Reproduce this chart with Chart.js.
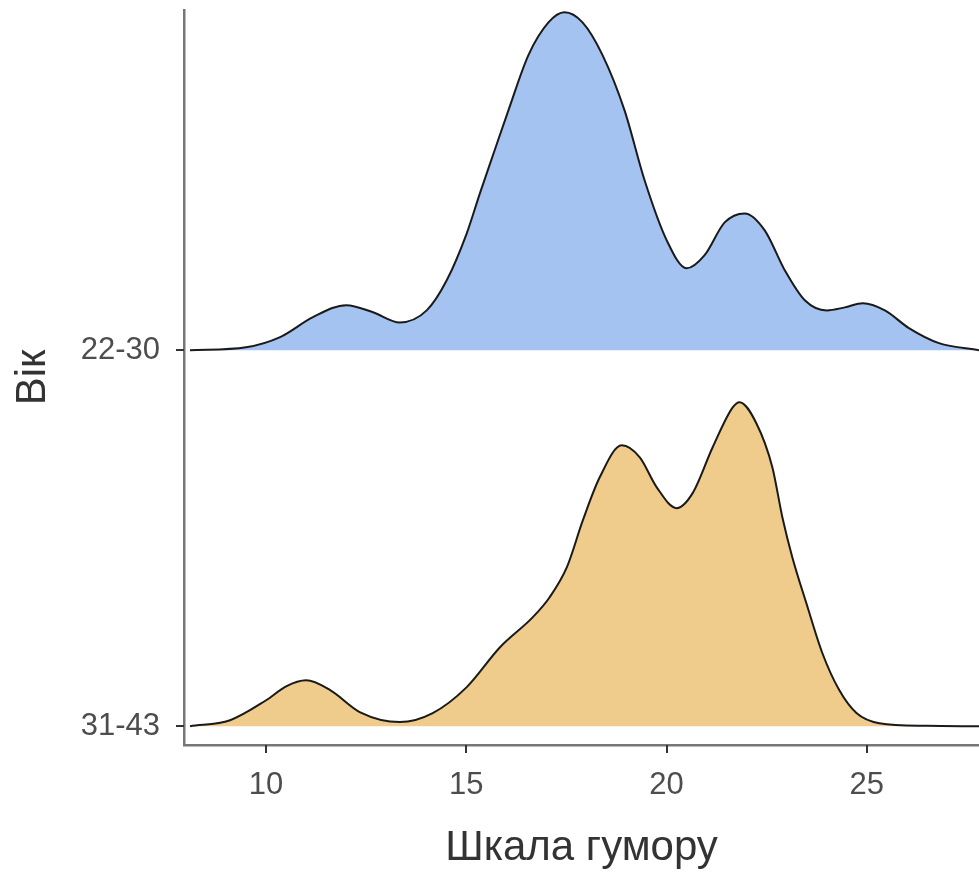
<!DOCTYPE html>
<html>
<head>
<meta charset="utf-8">
<script src="https://cdn.jsdelivr.net/npm/chart.js@4.4.1/dist/chart.umd.min.js"></script>
<style>
  html, body { margin: 0; padding: 0; background: #fff; }
  #wrap { width: 979px; height: 872px; position: relative; }
</style>
</head>
<body>
<div id="wrap"><canvas id="ridgeChart"></canvas></div>
<script>
// groups, bottom to top
const groups = ['31-43', '22-30'];
const baselines = [0, 1];

// 22-30 density (height above its baseline)
const youngX = [8.1, 9.5, 10.35, 11.17, 12, 12.67, 13.34, 14.01, 14.51, 15.01, 15.34, 15.7, 16.05, 16.55, 17.05, 17.45, 17.9, 18.4, 18.95, 19.45, 20, 20.5, 20.95, 21.45, 21.95, 22.45, 22.95, 23.45, 24, 24.45, 24.9, 25.45, 26.05, 26.8, 27.8];
const youngY = [0, 0.008, 0.035, 0.088, 0.120, 0.101, 0.074, 0.106, 0.186, 0.311, 0.418, 0.530, 0.638, 0.785, 0.872, 0.899, 0.872, 0.785, 0.638, 0.452, 0.293, 0.218, 0.253, 0.340, 0.364, 0.319, 0.213, 0.133, 0.106, 0.114, 0.125, 0.106, 0.059, 0.019, 0];

// 31-43 density
const olderX = [8.1, 9.1, 10, 10.5, 11, 11.6, 12.35, 13.34, 14.16, 15.01, 15.84, 16.66, 17.08, 17.51, 17.91, 18.33, 18.88, 19.33, 19.75, 20.25, 20.65, 21.15, 21.65, 21.82, 22.24, 22.64, 22.89, 23.14, 23.49, 23.89, 24.31, 24.74, 25.31, 26.5, 27.8];
const olderY = [0, 0.016, 0.069, 0.106, 0.122, 0.096, 0.037, 0.011, 0.035, 0.104, 0.210, 0.290, 0.343, 0.423, 0.548, 0.662, 0.747, 0.715, 0.636, 0.580, 0.620, 0.742, 0.848, 0.862, 0.806, 0.689, 0.556, 0.449, 0.327, 0.194, 0.096, 0.035, 0.008, 0.001, 0];

const xTicks = [10, 15, 20, 25];

const toPoints = (xs, ys, base) => xs.map((x, i) => ({ x: x, y: ys[i] + base }));

// small outward tick marks on both axes
const tickMarks = {
    id: 'tickMarks',
    afterDraw(chart) {
        const c = chart.ctx;
        const xs = chart.scales.x, ys = chart.scales.y;
        c.save();
        c.strokeStyle = '#333';
        c.lineWidth = 2;
        c.beginPath();
        xTicks.forEach(v => {
            const px = Math.round(xs.getPixelForValue(v));
            c.moveTo(px, xs.top);
            c.lineTo(px, xs.top + 8);
        });
        baselines.forEach(v => {
            const py = Math.round(ys.getPixelForValue(v));
            c.moveTo(ys.right, py);
            c.lineTo(ys.right - 8, py);
        });
        c.stroke();
        c.restore();
    }
};

const ctx = document.getElementById('ridgeChart').getContext('2d');
new Chart(ctx, {
    type: 'line',
    data: {
        datasets: [
            {
                label: groups[1],
                data: toPoints(youngX, youngY, baselines[1]),
                borderColor: '#1a1a1a',
                borderWidth: 2,
                backgroundColor: 'rgb(164,195,240)',
                fill: { value: baselines[1] },
                pointRadius: 0,
                cubicInterpolationMode: 'monotone'
            },
            {
                label: groups[0],
                data: toPoints(olderX, olderY, baselines[0]),
                borderColor: '#1a1a1a',
                borderWidth: 2,
                backgroundColor: 'rgb(239,204,140)',
                fill: { value: baselines[0] },
                pointRadius: 0,
                cubicInterpolationMode: 'monotone'
            }
        ]
    },
    plugins: [tickMarks],
    options: {
        responsive: true,
        maintainAspectRatio: false,
        animation: false,
        layout: { padding: { top: 10, right: 0, left: 0, bottom: 0 } },
        plugins: {
            legend: { display: false },
            tooltip: { enabled: false }
        },
        scales: {
            x: {
                type: 'linear',
                min: 7.95,
                max: 27.8,
                afterBuildTicks: function(scale) {
                    scale.ticks = xTicks.map(v => ({ value: v }));
                },
                afterFit: function(scale) {
                    scale.height = 127;
                    scale.paddingLeft = 0;
                    scale.paddingRight = 0;
                },
                grid: { drawOnChartArea: false, drawTicks: false },
                border: { display: true, color: '#777', width: 2.5 },
                ticks: {
                    color: '#4d4d4d',
                    font: { family: 'Liberation Sans, Arial', size: 31 },
                    padding: 22,
                    maxRotation: 0
                },
                title: {
                    display: true,
                    text: 'Шкала гумору',
                    color: '#333',
                    font: { family: 'Liberation Sans, Arial', size: 42, lineHeight: 1.1 },
                    padding: { top: 10, bottom: 0 }
                }
            },
            y: {
                type: 'linear',
                min: -0.05,
                max: 1.905,
                afterBuildTicks: function(scale) {
                    scale.ticks = baselines.map(v => ({ value: v }));
                },
                afterFit: function(scale) {
                    scale.width = 184;
                    scale.paddingTop = 0;
                    scale.paddingBottom = 0;
                },
                grid: { drawOnChartArea: false, drawTicks: false },
                border: { display: true, color: '#777', width: 2.5 },
                ticks: {
                    color: '#4d4d4d',
                    font: { family: 'Liberation Sans, Arial', size: 31 },
                    padding: 24,
                    callback: function(value) {
                        return groups[baselines.indexOf(value)];
                    }
                },
                title: {
                    display: true,
                    text: 'Вік',
                    color: '#333',
                    font: { family: 'Liberation Sans, Arial', size: 42 },
                    padding: { top: 8, bottom: 10 }
                }
            }
        }
    }
});
</script>
</body>
</html>
